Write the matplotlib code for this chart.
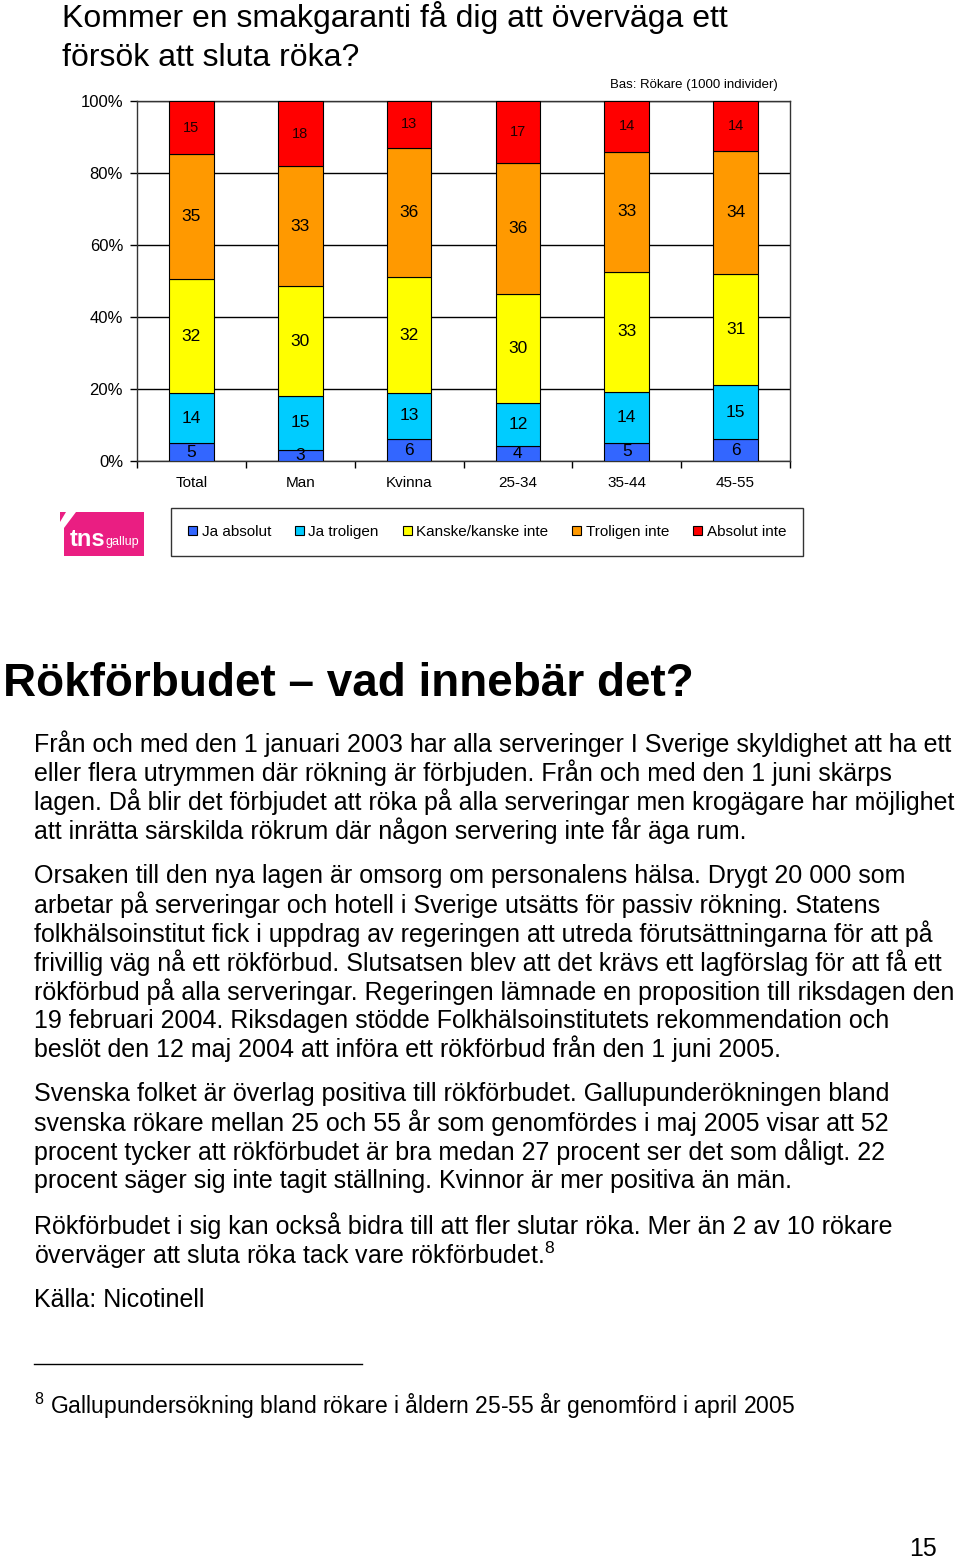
import matplotlib

matplotlib.use("Agg")
import matplotlib.pyplot as plt
import numpy as np
from matplotlib import font_manager
from matplotlib.patches import Patch, Polygon
from matplotlib.lines import Line2D

_names = {f.name for f in font_manager.fontManager.ttflist}
NARROW = "Liberation Sans Narrow" if "Liberation Sans Narrow" in _names else "Liberation Sans"
SANS = "Liberation Sans"

plt.rcParams["font.family"] = [SANS, "DejaVu Sans"]
plt.rcParams["mathtext.fontset"] = "custom"
plt.rcParams["mathtext.rm"] = SANS

# data: share of smokers per answer, per group (in percent, rows do not sum exactly to 100)
groups = ["Total", "Man", "Kvinna", "25-34", "35-44", "45-55"]
series_names = ["Ja absolut", "Ja troligen", "Kanske/kanske inte", "Troligen inte", "Absolut inte"]
ja_absolut = [5, 3, 6, 4, 5, 6]
ja_troligen = [14, 15, 13, 12, 14, 15]
kanske = [32, 30, 32, 30, 33, 31]
troligen_inte = [35, 33, 36, 36, 33, 34]
absolut_inte = [15, 18, 13, 17, 14, 14]
series_colors = ["#3366ff", "#00ccff", "#ffff00", "#ff9900", "#ff0000"]
y_ticks = [0, 20, 40, 60, 80, 100]

W, H = 960, 1561
fig = plt.figure(figsize=(W / 100, H / 100), dpi=100)


def fx(px):
    return px / W


def fy(py):
    return 1 - py / H


# chart title
fig.text(fx(62), fy(18), "Kommer en smakgaranti få dig att överväga ett", fontsize=23,
         family=[NARROW, SANS], va="center", ha="left")
fig.text(fx(62), fy(58), "försök att sluta röka?", fontsize=23,
         family=[NARROW, SANS], va="center", ha="left")
fig.text(fx(778), fy(85), "Bas: Rökare (1000 individer)", fontsize=9.5,
         family=[NARROW, SANS], va="center", ha="right")

ax = fig.add_axes([fx(137), fy(461), fx(790) - fx(137), (461 - 101) / H])

values = np.array([ja_absolut, ja_troligen, kanske, troligen_inte, absolut_inte], dtype=float)
shares = values / values.sum(axis=0) * 100
x = np.arange(len(groups))
bottom = np.zeros(len(groups))
for i, name in enumerate(series_names):
    ax.bar(x, shares[i], 0.41, bottom=bottom, color=series_colors[i], edgecolor="black",
           linewidth=0.8, zorder=3, label=name)
    for j in range(len(groups)):
        ax.text(x[j], bottom[j] + shares[i][j] / 2, f"{int(values[i][j])}", ha="center",
                va="center", fontsize=10.5 if i == 4 else 12.5, family=[NARROW, SANS],
                color="#200000" if i == 4 else "black", zorder=4)
    bottom += shares[i]

ax.set_xlim(-0.5, len(groups) - 0.5)
ax.set_ylim(0, 100)
ax.set_yticks(y_ticks)
ax.set_yticklabels([f"{t}%" for t in y_ticks], family=[NARROW, SANS], fontsize=12)
ax.set_xticks(x)
ax.set_xticklabels(groups, family=[NARROW, SANS], fontsize=11)
ax.set_xticks(np.arange(-0.5, len(groups)), minor=True)
ax.tick_params(axis="x", which="major", length=0, pad=11)
ax.tick_params(axis="x", which="minor", length=5, width=1, direction="out")
ax.tick_params(axis="y", length=5, width=1, direction="out", pad=5)
ax.grid(axis="y", color="black", linewidth=1, zorder=0)
for side in ["left", "right", "bottom", "top"]:
    ax.spines[side].set_linewidth(1)
    ax.spines[side].set_color("#333333")

# legend
handles = [Patch(facecolor=c, edgecolor="black", linewidth=0.8) for c in series_colors]
leg = fig.legend(handles, series_names, loc="center", bbox_to_anchor=(fx(487), fy(532)),
                 ncol=5, frameon=True, fancybox=False, edgecolor="black",
                 prop={"family": [NARROW, SANS], "size": 11}, handlelength=0.6,
                 handleheight=0.6, handletextpad=0.3, columnspacing=1.55, borderpad=1.1)
leg.get_frame().set_linewidth(1)

# tns gallup logo
fig.patches.append(Polygon([(fx(60), fy(512)), (fx(66), fy(512)), (fx(60), fy(522))], closed=True,
                           transform=fig.transFigure, facecolor="#ea1e82", edgecolor="none"))
fig.patches.append(Polygon([(fx(76), fy(512)), (fx(144), fy(512)), (fx(144), fy(556)),
                            (fx(64), fy(556)), (fx(64), fy(528))], closed=True,
                           transform=fig.transFigure, facecolor="#ea1e82", edgecolor="none"))
fig.text(fx(70), fy(540), "tns", color="white", fontsize=17, weight="bold", family=[NARROW, SANS],
         va="center", ha="left")
fig.text(fx(106), fy(542), "gallup", color="white", fontsize=9, family=[NARROW, SANS],
         va="center", ha="left")

# article text
fig.text(fx(3), fy(684), "Rökförbudet – vad innebär det?", fontsize=33, weight="bold",
         va="center", ha="left", family=[SANS])

body_lines = [
    (744, "Från och med den 1 januari 2003 har alla serveringer I Sverige skyldighet att ha ett"),
    (773, "eller flera utrymmen där rökning är förbjuden. Från och med den 1 juni skärps"),
    (802, "lagen. Då blir det förbjudet att röka på alla serveringar men krogägare har möjlighet"),
    (831, "att inrätta särskilda rökrum där någon servering inte får äga rum."),
    (876, "Orsaken till den nya lagen är omsorg om personalens hälsa. Drygt 20 000 som"),
    (905, "arbetar på serveringar och hotell i Sverige utsätts för passiv rökning. Statens"),
    (934, "folkhälsoinstitut fick i uppdrag av regeringen att utreda förutsättningarna för att på"),
    (963, "frivillig väg nå ett rökförbud. Slutsatsen blev att det krävs ett lagförslag för att få ett"),
    (992, "rökförbud på alla serveringar. Regeringen lämnade en proposition till riksdagen den"),
    (1021, "19 februari 2004. Riksdagen stödde Folkhälsoinstitutets rekommendation och"),
    (1049, "beslöt den 12 maj 2004 att införa ett rökförbud från den 1 juni 2005."),
    (1094, "Svenska folket är överlag positiva till rökförbudet. Gallupunderökningen bland"),
    (1123, "svenska rökare mellan 25 och 55 år som genomfördes i maj 2005 visar att 52"),
    (1152, "procent tycker att rökförbudet är bra medan 27 procent ser det som dåligt. 22"),
    (1181, "procent säger sig inte tagit ställning. Kvinnor är mer positiva än män."),
    (1226, "Rökförbudet i sig kan också bidra till att fler slutar röka. Mer än 2 av 10 rökare"),
    (1255, "överväger att sluta röka tack vare rökförbudet.$^{8}$"),
    (1300, "Källa: Nicotinell"),
]
for ypx, line in body_lines:
    fig.text(fx(34), fy(ypx), line, fontsize=18, family=[NARROW, SANS], va="center", ha="left")

fig.add_artist(Line2D([fx(34), fx(362)], [fy(1364), fy(1364)], color="black", linewidth=1))
fig.text(fx(34), fy(1406), "$^{8}$ Gallupundersökning bland rökare i åldern 25-55 år genomförd i april 2005",
         fontsize=16.5, family=[NARROW, SANS], va="center", ha="left")
fig.text(fx(937), fy(1549), "15", fontsize=18, family=[NARROW, SANS], va="center", ha="right")

fig.savefig("out.png", dpi=100)
